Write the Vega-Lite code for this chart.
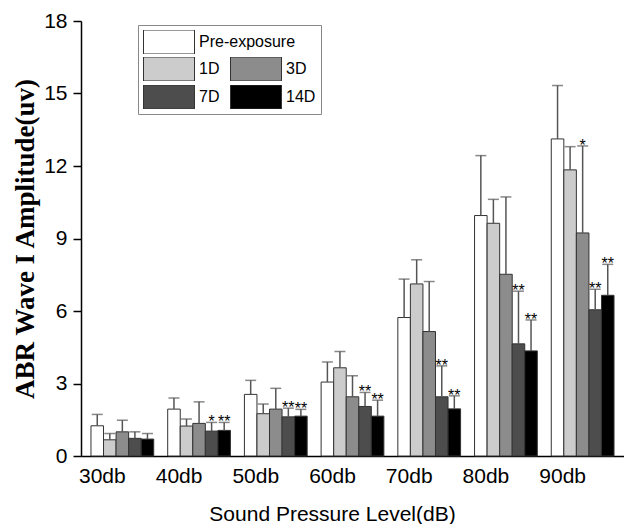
{
  "$schema": "https://vega.github.io/schema/vega-lite/v6.json",
  "width": 543,
  "height": 435,
  "autosize": {"type": "none"},
  "padding": {"left": 81, "top": 21, "right": 0, "bottom": 68},
  "background": "white",
  "config": {
    "view": {"stroke": null},
    "axis": {"grid": false, "domainColor": "#000", "tickColor": "#000", "labelColor": "#000", "titleColor": "#000"}
  },
  "data": {
    "values": [
      {"group": "30db", "series": "Pre-exposure", "value": 1.25, "err": 1.72, "sig": ""},
      {"group": "30db", "series": "1D", "value": 0.67, "err": 0.93, "sig": ""},
      {"group": "30db", "series": "3D", "value": 1.0, "err": 1.48, "sig": ""},
      {"group": "30db", "series": "7D", "value": 0.73, "err": 1.0, "sig": ""},
      {"group": "30db", "series": "14D", "value": 0.7, "err": 0.93, "sig": ""},
      {"group": "40db", "series": "Pre-exposure", "value": 1.94, "err": 2.4, "sig": ""},
      {"group": "40db", "series": "1D", "value": 1.24, "err": 1.53, "sig": ""},
      {"group": "40db", "series": "3D", "value": 1.35, "err": 2.24, "sig": ""},
      {"group": "40db", "series": "7D", "value": 1.03, "err": 1.39, "sig": "*"},
      {"group": "40db", "series": "14D", "value": 1.06, "err": 1.39, "sig": "**"},
      {"group": "50db", "series": "Pre-exposure", "value": 2.55, "err": 3.13, "sig": ""},
      {"group": "50db", "series": "1D", "value": 1.75, "err": 2.15, "sig": ""},
      {"group": "50db", "series": "3D", "value": 1.94, "err": 2.8, "sig": ""},
      {"group": "50db", "series": "7D", "value": 1.62, "err": 1.98, "sig": "**"},
      {"group": "50db", "series": "14D", "value": 1.65, "err": 1.93, "sig": "**"},
      {"group": "60db", "series": "Pre-exposure", "value": 3.06, "err": 3.89, "sig": ""},
      {"group": "60db", "series": "1D", "value": 3.65, "err": 4.32, "sig": ""},
      {"group": "60db", "series": "3D", "value": 2.45, "err": 3.32, "sig": ""},
      {"group": "60db", "series": "7D", "value": 2.05, "err": 2.63, "sig": "**"},
      {"group": "60db", "series": "14D", "value": 1.65, "err": 2.31, "sig": "**"},
      {"group": "70db", "series": "Pre-exposure", "value": 5.73, "err": 7.32, "sig": ""},
      {"group": "70db", "series": "1D", "value": 7.12, "err": 8.12, "sig": ""},
      {"group": "70db", "series": "3D", "value": 5.15, "err": 7.22, "sig": ""},
      {"group": "70db", "series": "7D", "value": 2.45, "err": 3.73, "sig": "**"},
      {"group": "70db", "series": "14D", "value": 1.95, "err": 2.49, "sig": "**"},
      {"group": "80db", "series": "Pre-exposure", "value": 9.95, "err": 12.43, "sig": ""},
      {"group": "80db", "series": "1D", "value": 9.63, "err": 10.62, "sig": ""},
      {"group": "80db", "series": "3D", "value": 7.52, "err": 10.72, "sig": ""},
      {"group": "80db", "series": "7D", "value": 4.64, "err": 6.82, "sig": "**"},
      {"group": "80db", "series": "14D", "value": 4.35, "err": 5.63, "sig": "**"},
      {"group": "90db", "series": "Pre-exposure", "value": 13.12, "err": 15.33, "sig": ""},
      {"group": "90db", "series": "1D", "value": 11.84, "err": 12.8, "sig": ""},
      {"group": "90db", "series": "3D", "value": 9.23, "err": 12.83, "sig": "*"},
      {"group": "90db", "series": "7D", "value": 6.05, "err": 6.9, "sig": "**"},
      {"group": "90db", "series": "14D", "value": 6.65, "err": 7.93, "sig": "**"}
    ]
  },
  "encoding": {
    "x": {
      "field": "group",
      "type": "nominal",
      "sort": ["30db", "40db", "50db", "60db", "70db", "80db", "90db"],
      "scale": {"paddingInner": 0.182, "paddingOuter": 0.13},
      "axis": {
        "title": "Sound Pressure Level(dB)",
        "labelAngle": 0,
        "ticks": false,
        "labelPadding": 9,
        "labelOffset": -20,
        "labelFont": "Liberation Sans",
        "labelFontSize": 21,
        "titleFont": "Liberation Sans",
        "titleFontSize": 21,
        "titleFontWeight": "normal",
        "titleX": 251,
        "titleY": 64,
        "titleBaseline": "alphabetic",
        "domainWidth": 1.5
      }
    },
    "xOffset": {
      "field": "series",
      "type": "nominal",
      "scale": {"domain": ["Pre-exposure", "1D", "3D", "7D", "14D"], "paddingInner": 0, "paddingOuter": 0}
    }
  },
  "layer": [
    {
      "transform": [{"filter": "datum.series === 'Pre-exposure'"}],
      "mark": {"type": "bar", "stroke": "#333", "strokeWidth": 1},
      "encoding": {
        "y": {
          "field": "value",
          "type": "quantitative",
          "scale": {"domain": [0, 18], "nice": false},
          "axis": {
            "title": "ABR Wave I Amplitude(uv)",
            "values": [0, 1.5, 3, 4.5, 6, 7.5, 9, 10.5, 12, 13.5, 15, 16.5, 18],
            "labelExpr": "datum.value % 3 === 0 ? format(datum.value, 'd') : ''",
            "tickSize": {"condition": {"test": "datum.value % 3 === 0", "value": 8}, "value": 4},
            "tickWidth": 1.5,
            "domainWidth": 1.5,
            "labelFont": "Liberation Sans",
            "labelFontSize": 21,
            "labelPadding": 6,
            "titleFont": "Liberation Serif",
            "titleFontSize": 27,
            "titleFontWeight": "bold",
            "titlePadding": 4
          }
        },
        "fill": {
          "field": "series",
          "type": "nominal",
          "scale": {"domain": ["Pre-exposure"], "range": ["#ffffff"]},
          "legend": {
            "orient": "none",
            "legendX": 57,
            "legendY": 4,
            "title": null,
            "symbolType": "M-1,-0.47H1V0.47H-1Z",
            "symbolSize": 2601,
            "symbolStrokeColor": "#333",
            "symbolStrokeWidth": 1,
            "clipHeight": 24,
            "labelFont": "Liberation Sans",
            "labelFontSize": 16,
            "labelColor": "#000",
            "labelOffset": 4,
            "padding": 5
          }
        }
      }
    },
    {
      "transform": [{"filter": "datum.series !== 'Pre-exposure'"}],
      "mark": {"type": "bar", "stroke": "#333", "strokeWidth": 1},
      "encoding": {
        "y": {"field": "value", "type": "quantitative"},
        "fill": {
          "field": "series",
          "type": "nominal",
          "scale": {"domain": ["1D", "7D", "3D", "14D"], "range": ["#cccccc", "#4d4d4d", "#8c8c8c", "#000000"]},
          "legend": {
            "orient": "none",
            "legendX": 57,
            "legendY": 4,
            "title": " ",
            "titleFontSize": 23,
            "titlePadding": 4,
            "columns": 2,
            "symbolType": "M-1,-0.47H1V0.47H-1Z",
            "symbolSize": 2601,
            "symbolStrokeColor": "#333",
            "symbolStrokeWidth": 1,
            "clipHeight": 24,
            "labelFont": "Liberation Sans",
            "labelFontSize": 16,
            "labelColor": "#000",
            "labelOffset": 4,
            "columnPadding": 10,
            "rowPadding": 4,
            "strokeColor": "#888",
            "padding": 5
          }
        }
      }
    },
    {
      "mark": {"type": "rule", "color": "#555", "strokeWidth": 1.5},
      "encoding": {
        "y": {"field": "value", "type": "quantitative"},
        "y2": {"field": "err"}
      }
    },
    {
      "mark": {"type": "tick", "color": "#555", "size": 11, "thickness": 1.5},
      "encoding": {
        "y": {"field": "err", "type": "quantitative"}
      }
    },
    {
      "transform": [{"filter": "datum.sig !== ''"}],
      "mark": {"type": "text", "font": "Liberation Sans", "fontSize": 16, "baseline": "alphabetic", "dy": 5, "color": "#000"},
      "encoding": {
        "y": {"field": "err", "type": "quantitative"},
        "text": {"field": "sig"}
      }
    }
  ],
  "resolve": {"scale": {"fill": "independent"}, "legend": {"fill": "independent"}}
}
